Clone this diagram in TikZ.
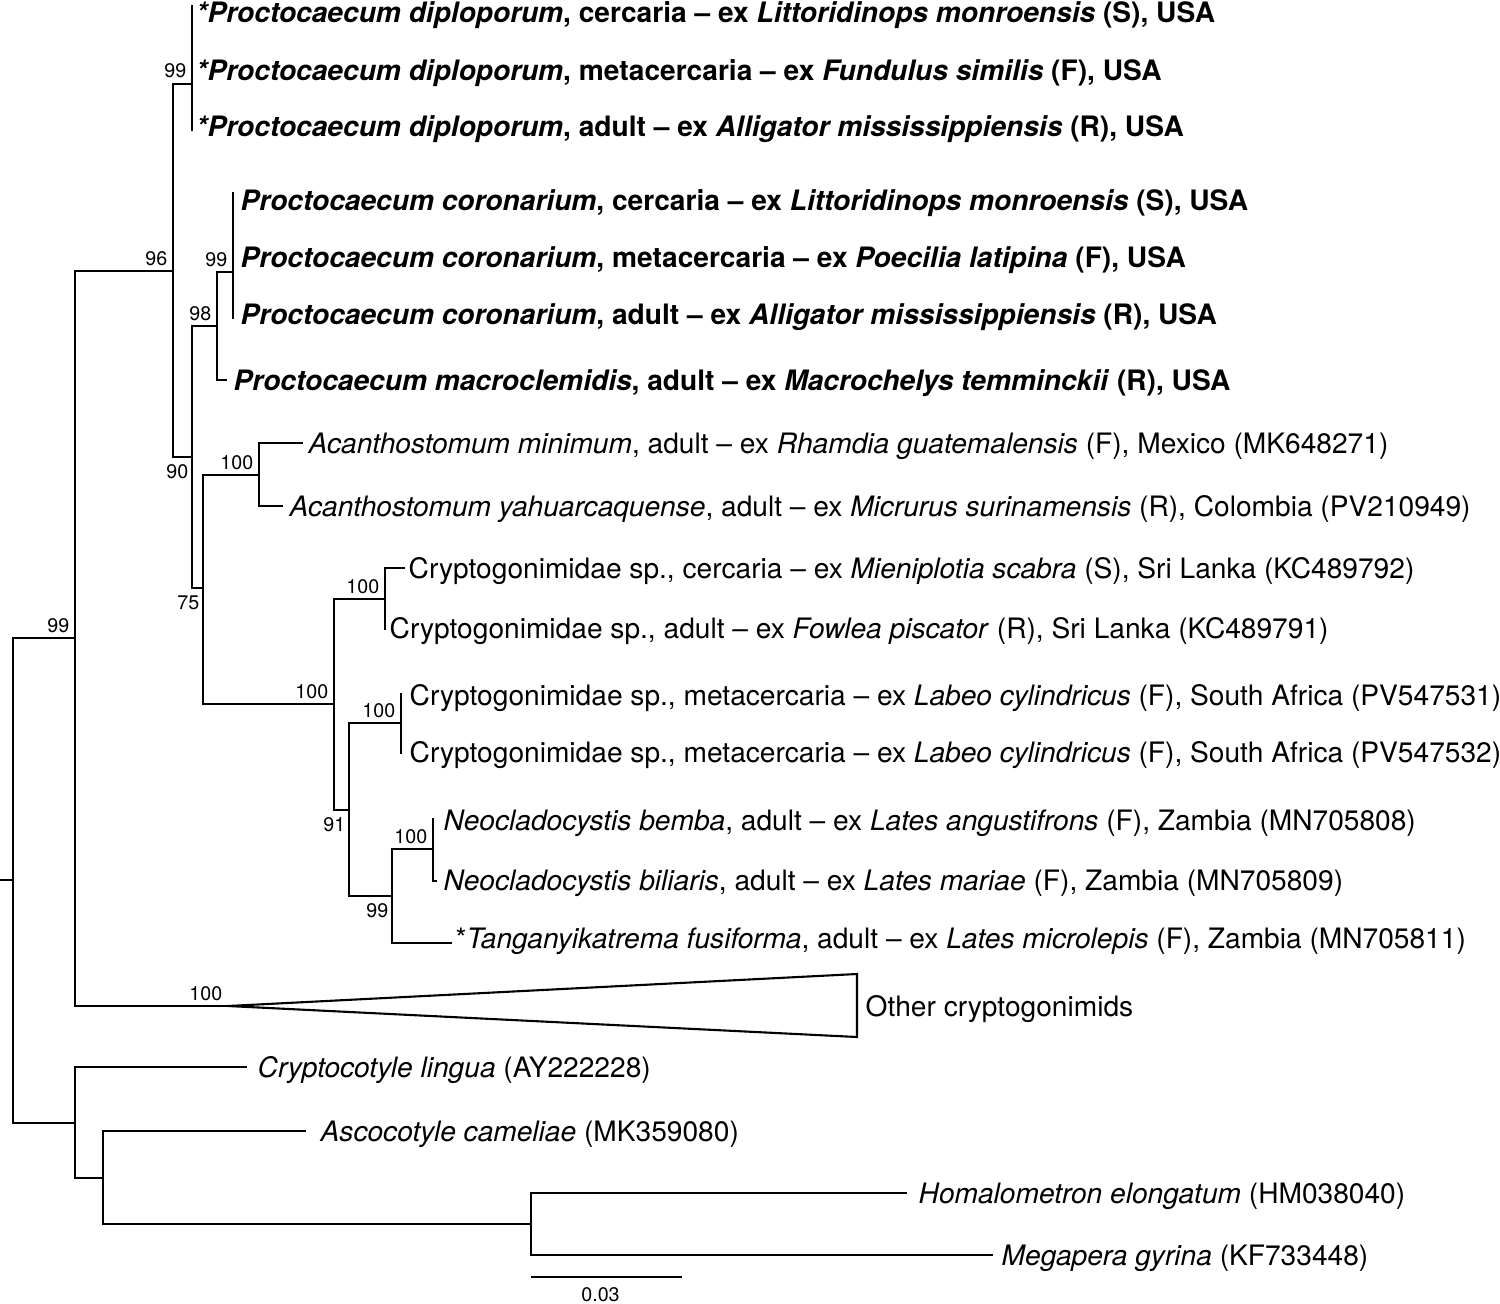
\documentclass[tikz,border=0pt]{standalone}
\usepackage{fontspec}
\setmainfont{TeX Gyre Heros}
\usepackage{tikz}
\usetikzlibrary{calc}
\tikzset{
  branch/.style={line width=0.6pt, line join=miter},
  tiplabel/.style={anchor=base west, inner sep=0pt, yshift=-0.1cm,
    font=\fontsize{8.0}{9}\selectfont},
  boldtip/.style={tiplabel, font=\fontsize{8.0}{9}\selectfont\bfseries},
  bslabel/.style={anchor=south east, inner sep=0pt, xshift=-0.05cm, yshift=0.05cm,
    font=\fontsize{5.6}{6}\selectfont},
  bsbelow/.style={anchor=north east, inner sep=0pt, xshift=-0.03cm, yshift=-0.07cm,
    font=\fontsize{5.6}{6}\selectfont}
}

\begin{document}
\begin{tikzpicture}[x=0.01cm, y=-0.01cm]
  \useasboundingbox (0,0) rectangle (1500,1303);

  %% Internal nodes
  \coordinate (rootbase) at (0,880);
  \coordinate (root) at (13,880);
  \coordinate (ningroup) at (75,638);
  \coordinate (n96) at (173,271);
  \coordinate (ndip) at (192,84);
  \coordinate (n90) at (192,457);
  \coordinate (n98) at (217,326);
  \coordinate (ncor) at (233,272);
  \coordinate (n75) at (203,588);
  \coordinate (naca) at (259,475);
  \coordinate (ncry) at (334,704);
  \coordinate (nsri) at (385,599);
  \coordinate (n91) at (349,810);
  \coordinate (nsaf) at (401,723);
  \coordinate (n99) at (392,896);
  \coordinate (nneo) at (433,849);
  \coordinate (nother) at (228,1006);
  \coordinate (noutgroup) at (75,1123);
  \coordinate (nasc) at (103,1178);
  \coordinate (nhom) at (531,1224);

  %% Tips
  \coordinate (dipc) at (192,5);
  \coordinate (dipa) at (192,131);
  \coordinate (corc) at (233,192);
  \coordinate (cora) at (233,319);
  \coordinate (macro) at (227,380);
  \coordinate (acamin) at (303,443);
  \coordinate (acayah) at (283,506);
  \coordinate (sric) at (405,568);
  \coordinate (sria) at (385,630);
  \coordinate (safa) at (401,693);
  \coordinate (safb) at (401,754);
  \coordinate (neobem) at (433,818);
  \coordinate (neobil) at (437,881);
  \coordinate (tang) at (452,943);
  \coordinate (othtop) at (857,974);
  \coordinate (othbot) at (857,1037);
  \coordinate (crylin) at (247,1067);
  \coordinate (ascam) at (306,1131);
  \coordinate (homel) at (907,1193);
  \coordinate (megyr) at (993,1255);

  %% Branches
  \draw[branch] (rootbase) -- (root);
  \draw[branch] (root) |- (ningroup);
  \draw[branch] (root) |- (noutgroup);
  \draw[branch] (ningroup) |- (n96);
  \draw[branch] (ningroup) |- (nother);
  \draw[branch] (n96) |- (ndip);
  \draw[branch] (n96) |- (n90);
  \draw[branch] (dipc) -- (dipa);
  \draw[branch] (n90) |- (n98);
  \draw[branch] (n90) |- (n75);
  \draw[branch] (n98) |- (ncor);
  \draw[branch] (n98) |- (macro);
  \draw[branch] (corc) -- (cora);
  \draw[branch] (n75) |- (naca);
  \draw[branch] (n75) |- (ncry);
  \draw[branch] (naca) |- (acamin);
  \draw[branch] (naca) |- (acayah);
  \draw[branch] (ncry) |- (nsri);
  \draw[branch] (ncry) |- (n91);
  \draw[branch] (nsri) |- (sric);
  \draw[branch] (nsri) |- (sria);
  \draw[branch] (n91) |- (nsaf);
  \draw[branch] (n91) |- (n99);
  \draw[branch] (nsaf) |- (safa);
  \draw[branch] (nsaf) |- (safb);
  \draw[branch] (n99) |- (nneo);
  \draw[branch] (n99) |- (tang);
  \draw[branch] (nneo) |- (neobem);
  \draw[branch] (nneo) |- (neobil);
  \draw[branch] (nother) -- (othtop) -- (othbot) -- cycle;
  \draw[branch] (noutgroup) |- (crylin);
  \draw[branch] (noutgroup) |- (nasc);
  \draw[branch] (nasc) |- (ascam);
  \draw[branch] (nasc) |- (nhom);
  \draw[branch] (nhom) |- (homel);
  \draw[branch] (nhom) |- (megyr);

  %% Support values
  \node[bslabel] (bsingroup) at (ningroup) {99};
  \node[bslabel] (bs96) at (n96) {96};
  \node[bslabel] (bsdip) at (ndip) {99};
  \node[bslabel] (bscor) at (ncor) {99};
  \node[bslabel] (bs98) at (n98) {98};
  \node[bsbelow] (bs90) at (n90) {90};
  \node[bsbelow] (bs75) at (n75) {75};
  \node[bslabel] (bsaca) at (naca) {100};
  \node[bslabel] (bscry) at (ncry) {100};
  \node[bslabel] (bssri) at (nsri) {100};
  \node[bsbelow] (bs91) at (n91) {91};
  \node[bslabel] (bssaf) at (nsaf) {100};
  \node[bsbelow] (bs99) at (n99) {99};
  \node[bslabel] (bsneo) at (nneo) {100};
  \node[bslabel] (bsother) at (nother) {100};

  %% Tip labels
  \node[boldtip] (labdipc) at (196,12) {\textit{*Proctocaecum diploporum}, cercaria – ex \textit{Littoridinops monroensis} (S), USA};
  \node[boldtip] (labdipm) at (196,70) {\textit{*Proctocaecum diploporum}, metacercaria – ex \textit{Fundulus similis} (F), USA};
  \node[boldtip] (labdipa) at (196,126) {\textit{*Proctocaecum diploporum}, adult – ex \textit{Alligator mississippiensis} (R), USA};
  \node[boldtip] (labcorc) at (240,200) {\textit{Proctocaecum coronarium}, cercaria – ex \textit{Littoridinops monroensis} (S), USA};
  \node[boldtip] (labcorm) at (240,257) {\textit{Proctocaecum coronarium}, metacercaria – ex \textit{Poecilia latipina} (F), USA};
  \node[boldtip] (labcora) at (240,314) {\textit{Proctocaecum coronarium}, adult – ex \textit{Alligator mississippiensis} (R), USA};
  \node[boldtip] (labmacro) at (233,380) {\textit{Proctocaecum macroclemidis}, adult – ex \textit{Macrochelys temminckii} (R), USA};
  \node[tiplabel] (labacamin) at (308,443) {\textit{Acanthostomum minimum}, adult – ex \textit{Rhamdia guatemalensis} (F), Mexico (MK648271)};
  \node[tiplabel] (labacayah) at (289,506) {\textit{Acanthostomum yahuarcaquense}, adult – ex \textit{Micrurus surinamensis} (R), Colombia (PV210949)};
  \node[tiplabel] (labsric) at (408,568) {Cryptogonimidae sp., cercaria – ex \textit{Mieniplotia scabra} (S), Sri Lanka (KC489792)};
  \node[tiplabel] (labsria) at (389,628) {Cryptogonimidae sp., adult – ex \textit{Fowlea piscator} (R), Sri Lanka (KC489791)};
  \node[tiplabel] (labsafa) at (409,695) {Cryptogonimidae sp., metacercaria – ex \textit{Labeo cylindricus} (F), South Africa (PV547531)};
  \node[tiplabel] (labsafb) at (409,752) {Cryptogonimidae sp., metacercaria – ex \textit{Labeo cylindricus} (F), South Africa (PV547532)};
  \node[tiplabel] (labneobem) at (443,820) {\textit{Neocladocystis bemba}, adult – ex \textit{Lates angustifrons} (F), Zambia (MN705808)};
  \node[tiplabel] (labneobil) at (443,880) {\textit{Neocladocystis biliaris}, adult – ex \textit{Lates mariae} (F), Zambia (MN705809)};
  \node[tiplabel] (labtang) at (455,938) {*\textit{Tanganyikatrema fusiforma}, adult – ex \textit{Lates microlepis} (F), Zambia (MN705811)};
  \node[tiplabel] (labother) at (865,1006) {Other cryptogonimids};
  \node[tiplabel] (labcrylin) at (257,1067) {\textit{Cryptocotyle lingua} (AY222228)};
  \node[tiplabel] (labascam) at (320,1131) {\textit{Ascocotyle cameliae} (MK359080)};
  \node[tiplabel] (labhomel) at (918,1193) {\textit{Homalometron elongatum} (HM038040)};
  \node[tiplabel] (labmegyr) at (1001,1255) {\textit{Megapera gyrina} (KF733448)};

  %% Scale bar
  \coordinate (sbleft) at (531,1277);
  \coordinate (sbright) at (682,1277);
  \draw[branch] (sbleft) -- (sbright)
    node[midway, below=0.09cm, inner sep=0pt, xshift=-0.06cm, font=\fontsize{5.6}{6}\selectfont] (sblabel) {0.03};

\end{tikzpicture}
\end{document}
